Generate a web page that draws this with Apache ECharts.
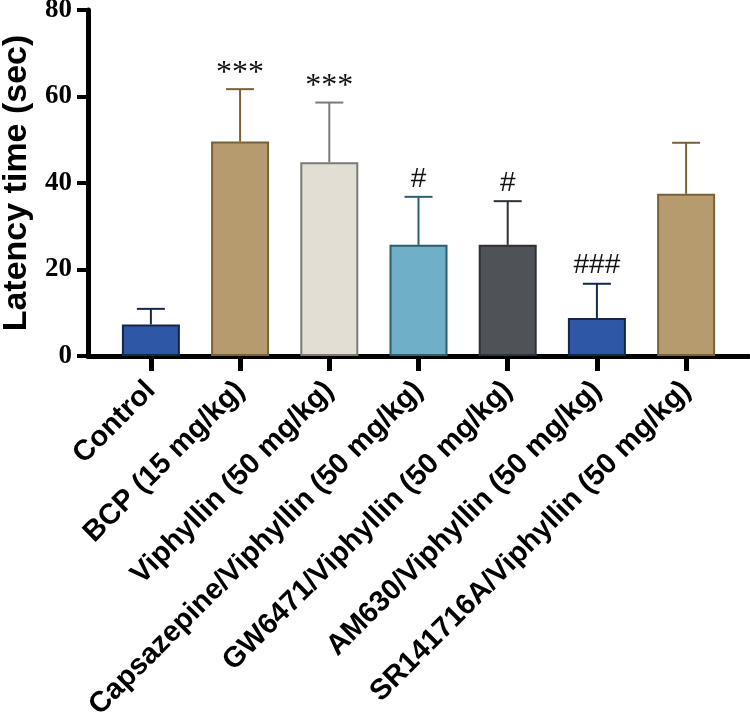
<!DOCTYPE html>
<html>
<head>
<meta charset="utf-8">
<script src="https://cdn.jsdelivr.net/npm/echarts@6/dist/echarts.min.js"></script>
<style>
html,body{margin:0;padding:0;background:#fff;}
#chart{width:750px;height:718px;}
</style>
</head>
<body>
<div id="chart"></div>
<script>
// ---- data ----
var categories = [
  'Control',
  'BCP (15 mg/kg)',
  'Viphyllin (50 mg/kg)',
  'Capsazepine/Viphyllin (50 mg/kg)',
  'GW6471/Viphyllin (50 mg/kg)',
  'AM630/Viphyllin (50 mg/kg)',
  'SR141716A/Viphyllin (50 mg/kg)'
];
var means = [7.3, 49.6, 44.8, 25.7, 25.7, 8.8, 37.5];
var upperErr = [10.9, 61.7, 58.6, 36.8, 35.8, 16.7, 49.3];
var marks = ['', '***', '***', '#', '#', '###', ''];
var yTicks = [0, 20, 40, 60, 80];

// ---- styles ----
var fills = ['#2E58A6', '#B59B6E', '#E2DED3', '#6FAFC8', '#4F5357', '#2E58A6', '#B59B6E'];
var borders = ['#15264D', '#7A6236', '#7B7B74', '#2E5D6E', '#2E3236', '#15264D', '#7A6236'];

var idx = categories.map(function (c, i) { return i; });

var chart = echarts.init(document.getElementById('chart'));
chart.setOption({
  animation: false,
  backgroundColor: '#ffffff',
  grid: { left: 88, right: 1, top: 10, bottom: 362, containLabel: false, outerBoundsMode: 'none' },
  xAxis: {
    type: 'value',
    min: -0.705,
    max: 6.705,
    splitLine: { show: false },
    axisLine: { show: true, onZero: false, lineStyle: { color: '#000', width: 5 } },
    axisTick: { show: true, customValues: idx, length: 15, lineStyle: { color: '#000', width: 5 } },
    axisLabel: {
      customValues: idx,
      rotate: 45,
      margin: 30,
      color: '#000',
      fontFamily: 'Liberation Sans',
      fontWeight: 'bold',
      fontSize: 29,
      formatter: function (v) { return categories[Math.round(v)]; }
    }
  },
  yAxis: {
    type: 'value',
    min: yTicks[0],
    max: yTicks[yTicks.length - 1],
    interval: 20,
    name: 'Latency time (sec)',
    nameLocation: 'middle',
    nameGap: 52,
    nameTextStyle: { color: '#000', fontFamily: 'Liberation Sans', fontWeight: 'bold', fontSize: 34 },
    splitLine: { show: false },
    axisLine: { show: true, onZero: false, lineStyle: { color: '#000', width: 5 } },
    axisTick: { show: true, length: 11, lineStyle: { color: '#000', width: 4 } },
    axisLabel: { margin: 16, color: '#000', fontFamily: 'Liberation Serif', fontWeight: 'bold', fontSize: 27 }
  },
  series: [
    {
      type: 'bar',
      barWidth: 58,
      data: means.map(function (m, i) {
        return { value: [i, m], itemStyle: { color: fills[i], borderColor: borders[i], borderWidth: 2 } };
      }),
      z: 2
    },
    {
      type: 'custom',
      data: means.map(function (m, i) { return [i, m, upperErr[i]]; }),
      renderItem: function (params, api) {
        var i = params.dataIndex;
        var x = api.value(0);
        var p0 = api.coord([x, api.value(1)]);
        var p1 = api.coord([x, api.value(2)]);
        var half = 14;
        var col = borders[i];
        var children = [
          { type: 'line', shape: { x1: p0[0], y1: p0[1], x2: p1[0], y2: p1[1] }, style: { stroke: col, lineWidth: 2 } },
          { type: 'line', shape: { x1: p1[0] - half, y1: p1[1], x2: p1[0] + half, y2: p1[1] }, style: { stroke: col, lineWidth: 2 } }
        ];
        var t = marks[i];
        if (t) {
          var isHash = t.charAt(0) === '#';
          children.push({
            type: 'text',
            style: {
              text: t,
              x: p1[0],
              y: p1[1] - (isHash ? 4 : 0),
              align: 'center',
              verticalAlign: 'bottom',
              fill: '#111',
              font: isHash ? '28px "Liberation Sans"' : '32px "Liberation Serif"'
            }
          });
        }
        return { type: 'group', children: children };
      },
      z: 3
    }
  ]
});
</script>
</body>
</html>
